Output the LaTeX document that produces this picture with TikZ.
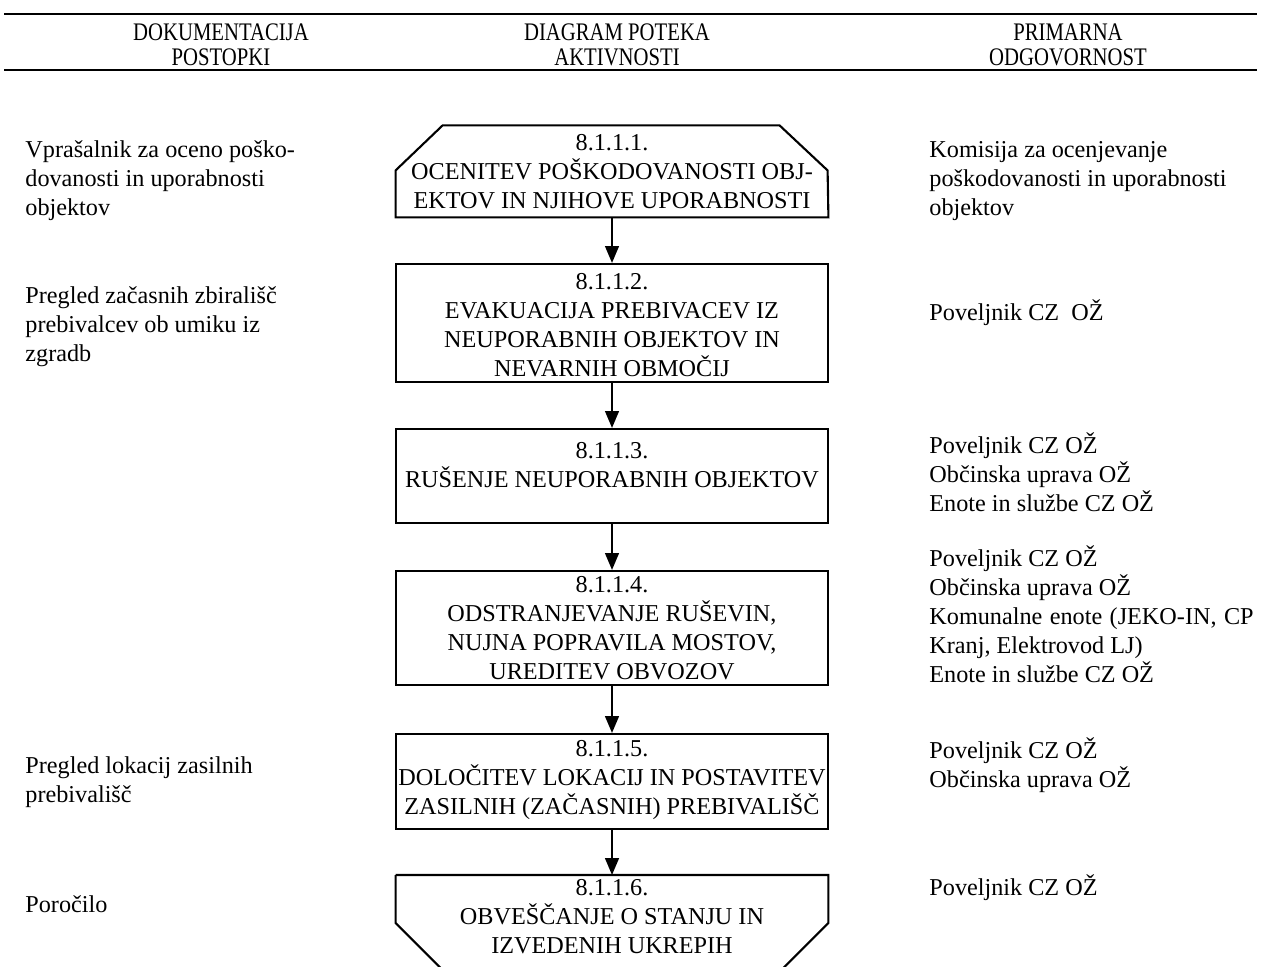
\documentclass[tikz,border=0pt]{standalone}
\usepackage{fontspec}
\setmainfont{Liberation Serif}
\usetikzlibrary{arrows.meta}
\newcommand{\hdr}[1]{\scalebox{0.82}[1]{#1}}
\begin{document}
\begin{tikzpicture}[x=0.475pt,y=-0.475pt,
  txt/.style={inner sep=0pt, font=\fontsize{11.5}{13.8}\selectfont},
  ctxt/.style={txt, align=center},
  ltxt/.style={txt, align=left, anchor=west},
  htxt/.style={inner sep=0pt, align=center, font=\fontsize{12}{11.9}\selectfont},
  ghost/.style={minimum width=205.2pt, inner sep=0pt},
  boxnode/.style={ghost, draw, line width=1pt},
  outline/.style={line width=1pt, line join=miter},
  flow/.style={line width=1pt, -{Triangle[length=8pt,width=6.5pt]}},
  rulel/.style={line width=1.4pt}]
\useasboundingbox (0,0) rectangle (1261,966);

% header
\draw[rulel] (4,14) -- (1257,14);
\draw[rulel] (4,70) -- (1257,70);
\node[htxt] (h1) at (221,44.5) {\hdr{DOKUMENTACIJA}\\\hdr{POSTOPKI}};
\node[htxt] (h2) at (617,44.5) {\hdr{DIAGRAM POTEKA}\\\hdr{AKTIVNOSTI}};
\node[htxt] (h3) at (1068,44.5) {\hdr{PRIMARNA}\\\hdr{ODGOVORNOST}};

% boxes
\node[ghost, minimum height=43.7pt] (b1) at (612,171) {};
\draw[outline] (b1.south west) -- ++(0,-47) -- ++(47,-45) -- ++(337,0)
  -- ++(48,45) -- (b1.south east) -- cycle;
\node[boxnode, minimum height=56.05pt] (b2) at (612,323) {};
\node[boxnode, minimum height=44.65pt] (b3) at (612,476) {};
\node[boxnode, minimum height=54.15pt] (b4) at (612,628) {};
\node[boxnode, minimum height=45.1pt] (b5) at (612,781.5) {};
\node[ghost, minimum height=50pt, anchor=north] (b6) at (612,875) {};
\draw[outline] (b6.north west) -- ++(0,48) -- ++(48,48);
\draw[outline] (b6.north west) -- (b6.north east) -- ++(0,48) -- ++(-48,48);

% box texts
\node[ctxt] (t1) at (612,172) {8.1.1.1.\\OCENITEV POŠKODOVANOSTI OBJ-\\EKTOV IN NJIHOVE UPORABNOSTI};
\node[ctxt] (t2) at (612,325.5) {8.1.1.2.\\EVAKUACIJA PREBIVACEV IZ\\NEUPORABNIH OBJEKTOV IN\\NEVARNIH OBMOČIJ};
\node[ctxt] (t3) at (612,465.5) {8.1.1.3.\\RUŠENJE NEUPORABNIH OBJEKTOV};
\node[ctxt] (t4) at (612,628.5) {8.1.1.4.\\ODSTRANJEVANJE RUŠEVIN,\\NUJNA POPRAVILA MOSTOV,\\UREDITEV OBVOZOV};
\node[ctxt] (t5) at (612,780) {8.1.1.5.\\DOLOČITEV LOKACIJ IN POSTAVITEV\\ZASILNIH (ZAČASNIH) PREBIVALIŠČ};
\node[ctxt] (t6) at (612,917) {8.1.1.6.\\OBVEŠČANJE O STANJU IN\\IZVEDENIH UKREPIH};

% connectors
\draw[flow] (b1) -- (b2);
\draw[flow] (b2) -- (b3);
\draw[flow] (b3) -- (b4);
\draw[flow] (b4) -- (b5);
\draw[flow] (b5) -- (b6);

% left column
\node[ltxt] (l1) at (25,181) {Vprašalnik za oceno poško-\\dovanosti in uporabnosti\\objektov};
\node[ltxt] (l2) at (25,327) {Pregled začasnih zbirališč\\prebivalcev ob umiku iz\\zgradb};
\node[ltxt] (l3) at (25,782.5) {Pregled lokacij zasilnih\\prebivališč};
\node[ltxt] (l4) at (25,904) {Poročilo};

% right column
\node[ltxt] (r1) at (929,181) {Komisija za ocenjevanje\\poškodovanosti in uporabnosti\\objektov};
\node[ltxt] (r2) at (929,313) {Poveljnik CZ\ \ OŽ};
\node[ltxt] (r3) at (929,472.5) {Poveljnik CZ OŽ\\Občinska uprava OŽ\\Enote in službe CZ OŽ};
\node[ltxt] (r4) at (929,614) {Poveljnik CZ OŽ\\Občinska uprava OŽ\\\hbox to 154pt{Komunalne\hfil\ enote\hfil\ (JEKO-IN,\hfil\ CP}\\Kranj, Elektrovod LJ)\\Enote in službe CZ OŽ};
\node[ltxt] (r5) at (929,765.5) {Poveljnik CZ OŽ\\Občinska uprava OŽ};
\node[ltxt] (r6) at (929,888) {Poveljnik CZ OŽ};
\end{tikzpicture}
\end{document}
